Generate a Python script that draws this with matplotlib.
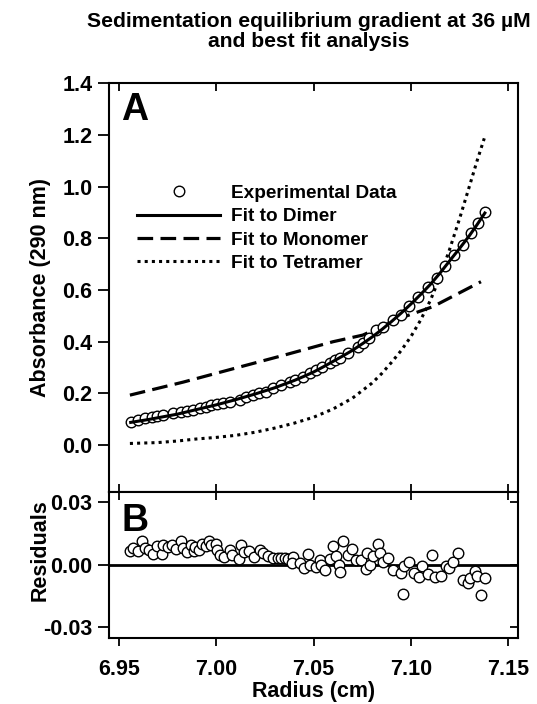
import matplotlib
matplotlib.use("Agg")
import matplotlib.pyplot as plt

plt.rcParams['font.family'] = ['Liberation Sans', 'DejaVu Sans']
plt.rcParams['font.weight'] = 'bold'
plt.rcParams['axes.unicode_minus'] = False

# ---------------- data ----------------
radius_data = [6.9560, 6.9599, 6.9633, 6.9668, 6.9697, 6.9727, 6.9775, 6.9816, 6.9847, 6.9881,
               6.9915, 6.9946, 6.9975, 7.0001, 7.0035, 7.0069, 7.0121, 7.0155, 7.0186, 7.0220,
               7.0254, 7.0291, 7.0334, 7.0377, 7.0403, 7.0445, 7.0483, 7.0514, 7.0544, 7.0582,
               7.0608, 7.0637, 7.0676, 7.0727, 7.0753, 7.0787, 7.0821, 7.0859, 7.0907, 7.0950,
               7.0989, 7.1035, 7.1087, 7.1133, 7.1177, 7.1223, 7.1269, 7.1309, 7.1343, 7.1381]
absorbance_data = [0.0903, 0.0968, 0.1032, 0.1071, 0.1123, 0.1161, 0.1226, 0.1290, 0.1316, 0.1355,
                   0.1420, 0.1484, 0.1548, 0.1587, 0.1613, 0.1677, 0.1742, 0.1845, 0.1935, 0.2000,
                   0.2065, 0.2194, 0.2323, 0.2452, 0.2516, 0.2645, 0.2774, 0.2903, 0.3032, 0.3161,
                   0.3290, 0.3355, 0.3548, 0.3806, 0.3935, 0.4129, 0.4452, 0.4555, 0.4839, 0.5032,
                   0.5381, 0.5742, 0.6129, 0.6452, 0.6929, 0.7355, 0.7742, 0.8194, 0.8581, 0.9032]

radius_dimer = [6.956, 6.965, 6.97, 6.975, 6.98, 6.985, 6.99, 6.995, 7.00, 7.005, 7.01, 7.015,
                7.02, 7.025, 7.03, 7.035, 7.04, 7.045, 7.05, 7.055, 7.06, 7.065, 7.07, 7.075,
                7.08, 7.085, 7.09, 7.095, 7.10, 7.105, 7.11, 7.115, 7.12, 7.125, 7.13, 7.134, 7.138]
abs_dimer = [0.088, 0.099, 0.106, 0.113, 0.120, 0.129, 0.138, 0.147, 0.156, 0.166, 0.176, 0.187,
             0.198, 0.210, 0.222, 0.236, 0.250, 0.266, 0.283, 0.303, 0.324, 0.345, 0.367, 0.392,
             0.418, 0.447, 0.478, 0.511, 0.546, 0.583, 0.622, 0.666, 0.714, 0.761, 0.810, 0.853, 0.898]

radius_monomer = [6.9556, 6.9830, 7.0086, 7.0343, 7.0599, 7.0753, 7.0941, 7.1112, 7.1360]
abs_monomer = [0.1935, 0.2439, 0.2955, 0.3471, 0.4000, 0.4258, 0.4903, 0.5355, 0.6323]

radius_tetramer = [6.9556, 6.97, 6.98, 6.99, 7.00, 7.01, 7.02, 7.03, 7.04, 7.05, 7.06, 7.07,
                   7.08, 7.085, 7.09, 7.095, 7.10, 7.105, 7.11, 7.115, 7.12, 7.125, 7.13, 7.134, 7.1377]
abs_tetramer = [0.0065, 0.010, 0.016, 0.024, 0.030, 0.038, 0.050, 0.066, 0.085, 0.108, 0.140, 0.182,
                0.240, 0.277, 0.320, 0.366, 0.420, 0.484, 0.560, 0.652, 0.760, 0.876, 1.000, 1.100, 1.187]

radius_resid = [6.9556, 6.9574, 6.9596, 6.9616, 6.9633, 6.9656, 6.9676, 6.9693, 6.9719, 6.9724,
                6.9753, 6.9770, 6.9792, 6.9818, 6.9827, 6.9847, 6.9868, 6.9886, 6.9890, 6.9910,
                6.9924, 6.9946, 6.9963, 6.9972, 6.9996, 7.0004, 7.0021, 7.0038, 7.0069, 7.0083,
                7.0117, 7.0129, 7.0141, 7.0168, 7.0192, 7.0223, 7.0240, 7.0266, 7.0292, 7.0317,
                7.0334, 7.0351, 7.0368, 7.0394, 7.0391, 7.0428, 7.0449, 7.0471, 7.0480, 7.0510,
                7.0531, 7.0539, 7.0560, 7.0582, 7.0599, 7.0613, 7.0630, 7.0637, 7.0650, 7.0676,
                7.0698, 7.0719, 7.0744, 7.0767, 7.0774, 7.0791, 7.0804, 7.0830, 7.0839, 7.0856,
                7.0881, 7.0910, 7.0950, 7.0958, 7.0962, 7.0992, 7.1018, 7.1040, 7.1057, 7.1086,
                7.1109, 7.1126, 7.1155, 7.1180, 7.1197, 7.1218, 7.1240, 7.1269, 7.1292, 7.1303,
                7.1331, 7.1338, 7.1360, 7.1382]
residuals = [0.0064, 0.0080, 0.0064, 0.0112, 0.0080, 0.0072, 0.0053, 0.0091, 0.0053, 0.0096,
             0.0085, 0.0096, 0.0075, 0.0115, 0.0080, 0.0059, 0.0096, 0.0064, 0.0085, 0.0072,
             0.0101, 0.0088, 0.0112, 0.0096, 0.0101, 0.0072, 0.0048, 0.0037, 0.0072, 0.0048,
             0.0027, 0.0096, 0.0059, 0.0064, 0.0037, 0.0072, 0.0056, 0.0043, 0.0032, 0.0032,
             0.0032, 0.0032, 0.0027, 0.0037, 0.0008, 0.0008, -0.0016, 0.0053, 0.0000, -0.0011,
             0.0024, 0.0000, -0.0027, 0.0027, 0.0088, 0.0040, 0.0000, -0.0037, 0.0112, 0.0048,
             0.0075, 0.0024, 0.0021, -0.0021, 0.0056, 0.0000, 0.0040, 0.0101, 0.0056, 0.0011,
             0.0032, -0.0024, -0.0040, -0.0139, -0.0008, 0.0011, -0.0040, -0.0059, -0.0008, -0.0043,
             0.0048, -0.0059, -0.0056, -0.0008, -0.0016, 0.0011, 0.0056, -0.0075, -0.0088, -0.0064,
             -0.0032, -0.0056, -0.0144, -0.0064]

top_yticks = [0.0, 0.2, 0.4, 0.6, 0.8, 1.0, 1.2, 1.4]
bottom_yticks = [-0.03, 0.00, 0.03]
xticks = [6.95, 7.00, 7.05, 7.10, 7.15]

title_text = "Sedimentation equilibrium gradient at 36 \u00b5M\nand best fit analysis"
legend_labels = ["Experimental Data", "Fit to Dimer", "Fit to Monomer", "Fit to Tetramer"]

# ---------------- figure ----------------
fig = plt.figure(figsize=(5.37, 7.04), dpi=100)
L, W = 0.2035, 0.761
ax1 = fig.add_axes([L, 0.3016, W, 0.8817 - 0.3016])
ax2 = fig.add_axes([L, 0.0942, W, 0.3016 - 0.0942])

TICK_FS = 15.5
mk = dict(marker='o', markersize=7.6, markerfacecolor='white', markeredgecolor='black',
          markeredgewidth=1.0, linestyle='none')

# top panel
ax1.plot(radius_tetramer, abs_tetramer, color='black', lw=2.2, linestyle=(0, (1, 1.35)),
         label=legend_labels[3], zorder=2)
ax1.plot(radius_monomer, abs_monomer, color='black', lw=2.3, linestyle=(0, (4.9, 2.3)),
         label=legend_labels[2], zorder=2)
ax1.plot(radius_data, absorbance_data, label=legend_labels[0], zorder=3, **mk)
ax1.plot(radius_dimer, abs_dimer, color='black', lw=2.2, linestyle='-',
         label=legend_labels[1], zorder=4)

ax1.set_xlim(6.945, 7.155)
ax1.set_ylim(-0.18, 1.4)
ax1.set_yticks(top_yticks)
ax1.set_yticklabels([f"{v:.1f}" for v in top_yticks])
ax1.set_xticks(xticks)
ax1.tick_params(axis='x', which='both', direction='in', top=True, bottom=True,
                labelbottom=False, length=6, width=1.3)
ax1.tick_params(axis='y', direction='out', left=True, right=False, length=8, width=1.3,
                labelsize=TICK_FS, pad=4)
ax1.set_ylabel("Absorbance (290 nm)", fontsize=TICK_FS, fontweight='bold')
ax1.yaxis.set_label_coords(-0.143, 0.5)
ax1.text(0.03, 0.935, "A", transform=ax1.transAxes, fontsize=27, fontweight='bold',
         va='center', ha='left')

h = {l.get_label(): l for l in ax1.get_lines()}
handles = [h[n] for n in legend_labels]
ax1.legend(handles, legend_labels, loc='upper left', bbox_to_anchor=(0.067, 0.752),
           frameon=False, handlelength=4.4, handletextpad=0.55,
           labelspacing=0.32, borderpad=0, borderaxespad=0, numpoints=1,
           prop={'weight': 'bold', 'size': 13.7})

# bottom panel
ax2.axhline(0, color='black', lw=2.0, zorder=1)
ax2.plot(radius_resid, residuals, zorder=3, **mk)
ax2.set_xlim(6.945, 7.155)
ax2.set_ylim(-0.035, 0.035)
ax2.set_yticks(bottom_yticks)
ax2.set_yticklabels([f"{v:.2f}" for v in bottom_yticks])
ax2.set_xticks(xticks)
ax2.set_xticklabels([f"{v:.2f}" for v in xticks])
ax2.tick_params(axis='x', direction='out', bottom=True, top=False, length=6, width=1.3,
                labelsize=TICK_FS, pad=9)
ax2.tick_params(axis='y', direction='out', left=True, right=False, length=8, width=1.3,
                labelsize=TICK_FS, pad=4)
sec_top = ax2.secondary_xaxis('top')
sec_top.set_xticks(xticks)
sec_top.tick_params(direction='in', length=6, width=1.3, labeltop=False)
sec_top.spines['top'].set_visible(False)
sec_right = ax2.secondary_yaxis('right')
sec_right.set_yticks(bottom_yticks)
sec_right.tick_params(direction='in', length=6, width=1.3, labelright=False)
sec_right.spines['right'].set_visible(False)

ax2.set_ylabel("Residuals", fontsize=TICK_FS, fontweight='bold')
ax2.yaxis.set_label_coords(-0.143, 0.6)
ax2.set_xlabel("Radius (cm)", fontsize=TICK_FS, fontweight='bold', labelpad=1)
ax2.text(0.03, 0.80, "B", transform=ax2.transAxes, fontsize=27, fontweight='bold',
         va='center', ha='left')

for ax in (ax1, ax2):
    for s in ax.spines.values():
        s.set_linewidth(1.5)

fig.text(0.575, 0.983, title_text, ha='center', va='top', fontsize=15.2,
         fontweight='bold', linespacing=1.1)

fig.savefig("out.png", dpi=100, facecolor='white')
